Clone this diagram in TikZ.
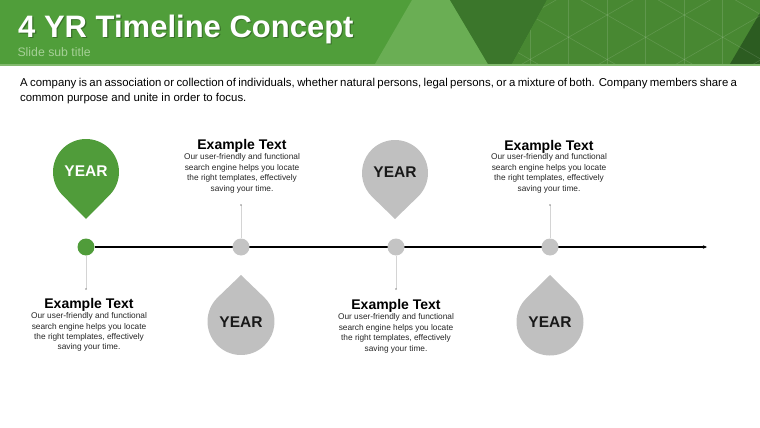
\documentclass[tikz,border=0pt]{standalone}
\usepackage{fontspec}
\setmainfont{Liberation Sans}
\usetikzlibrary{arrows.meta,calc}
\definecolor{hdr}{RGB}{80,158,58}
\definecolor{hdrlight}{RGB}{106,174,84}
\definecolor{hdrdark}{RGB}{59,118,43}
\definecolor{hdrmid}{RGB}{72,136,50}
\definecolor{hdrdeep}{RGB}{44,92,33}
\definecolor{hdrstripe}{RGB}{130,185,110}
\definecolor{subt}{RGB}{165,208,150}
\definecolor{pingreen}{RGB}{80,156,58}
\definecolor{pingray}{RGB}{192,192,192}
\definecolor{dotgray}{RGB}{196,196,196}
\definecolor{linegray}{RGB}{212,212,212}
\newcommand\pinshape[5]{%
  \pgfmathsetmacro\pth{acos(#3/abs(#4))}%
  \pgfmathsetmacro\pdir{(#4>0) ? 90 : -90}%
  \pgfmathsetmacro\ptipy{#2+#4}%
  \fill[#5] (#1,\ptipy) -- ($(#1,#2)+(\pdir-\pth:#3)$)
    arc[start angle=\pdir-\pth, end angle=\pdir+\pth-360, radius=#3] -- cycle;}
\tikzset{
  ttl/.style={font=\bfseries\fontsize{14}{16}\selectfont, text=black, inner sep=0, anchor=base},
  body/.style={font=\fontsize{8.3}{10.4}\selectfont, align=center, text=black!85, inner sep=0, anchor=north},
  yeartxt/.style={font=\bfseries\fontsize{15.5}{18}\selectfont, inner sep=0},
  dotnode/.style={circle, minimum size=17pt, inner sep=0, fill=dotgray},
  conn/.style={draw=linegray, line width=0.8pt},
  tl/.style={draw=black, line width=1.3pt, -{Stealth[length=4pt,width=3.5pt]}},
}
\begin{document}
\begin{tikzpicture}[x=1pt,y=-1pt]
\useasboundingbox (0,0) rectangle (760,428);
% header
\fill[hdr] (0,0) rectangle (760,64);
\fill[hdrlight] (375,64) -- (412,0) -- (450,0) -- (488,64) -- cycle;
\fill[hdrdark] (450,0) -- (547,0) -- (512,64) -- (488,64) -- cycle;
\fill[hdrmid] (547,0) -- (760,0) -- (760,64) -- (512,64) -- cycle;
\fill[hdrdeep] (730,64) -- (760,13) -- (760,64) -- cycle;
\begin{scope}
  \clip (547,0) -- (760,0) -- (760,64) -- (512,64) -- cycle;
  \foreach \k in {-1,...,6} {\draw[white, opacity=0.13, line width=0.6pt] (530+\k*38.5,0) -- (530+\k*38.5,64);}
  \foreach \k in {-3,...,3} {\draw[white, opacity=0.13, line width=0.6pt] (500,{0.577*500-335.3+\k*44.5}) -- (760,{0.577*760-335.3+\k*44.5});}
  \foreach \k in {-2,...,4} {\draw[white, opacity=0.13, line width=0.6pt] (500,{-0.577*500+365.3+\k*44.5}) -- (760,{-0.577*760+365.3+\k*44.5});}
\end{scope}
\fill[hdrstripe] (0,64) rectangle (760,66.5);
\node[anchor=base west, font=\bfseries\fontsize{31}{36}\selectfont, text=black, opacity=0.3, inner sep=0] (titleshadow) at (19.2,39) {4 YR Timeline Concept};
\node[anchor=base west, font=\bfseries\fontsize{31}{36}\selectfont, text=white, inner sep=0] (title) at (18,37.7) {4 YR Timeline Concept};
\node[anchor=base west, font=\fontsize{12.3}{14}\selectfont, text=subt, inner sep=0] (subtitle) at (17.3,56.5) {Slide sub title};
% intro
\node[anchor=north west, align=left, inner sep=0, font=\fontsize{11.4}{15}\selectfont] (intro) at (20,77.8)
  {\makebox[717pt][s]{A company is an association or collection of individuals, whether natural persons, legal persons, or a mixture of both. Company members share a}\\
   common purpose and unite in order to focus.};
% pins
\pinshape{86}{172}{33}{47}{pingreen}
\pinshape{395}{173}{33}{46}{pingray}
\pinshape{241}{321.5}{33.5}{-46.5}{pingray}
\pinshape{550}{322}{33.5}{-47}{pingray}
\node[yeartxt, text=white] (y1) at (86,171) {YEAR};
\node[yeartxt, text=black!90] (y3) at (395,172) {YEAR};
\node[yeartxt, text=black!90] (y2) at (241,322) {YEAR};
\node[yeartxt, text=black!90] (y4) at (550,322) {YEAR};
% timeline
\node[dotnode, fill=pingreen] (d1) at (86,247) {};
\coordinate (aend) at (707,247);
\draw[tl] (d1) -- (aend);
\node[dotnode] (d2) at (241,247) {};
\node[dotnode] (d3) at (396,247) {};
\node[dotnode] (d4) at (550,247) {};
% connectors
\coordinate (c1) at (86,289);
\coordinate (c2) at (241,205);
\coordinate (c3) at (396,289);
\coordinate (c4) at (550,205);
\draw[conn] (d1) -- (c1);
\draw[conn] (d2) -- (c2);
\draw[conn] (d3) -- (c3);
\draw[conn] (d4) -- (c4);
\foreach \c in {c1,c2,c3,c4} {\fill[black!45] (\c) circle (0.8);}
% texts
\node[ttl] (t2) at (242,149) {Example Text};
\node[body] (b2) at (242,153.6) {Our user-friendly and functional\\search engine helps you locate\\the right templates, effectively\\saving your time.};
\node[ttl] (t4) at (549,150) {Example Text};
\node[body] (b4) at (549,153.6) {Our user-friendly and functional\\search engine helps you locate\\the right templates, effectively\\saving your time.};
\node[ttl] (t1) at (89,308) {Example Text};
\node[body] (b1) at (89,312.4) {Our user-friendly and functional\\search engine helps you locate\\the right templates, effectively\\saving your time.};
\node[ttl] (t3) at (396,309) {Example Text};
\node[body] (b3) at (396,313.6) {Our user-friendly and functional\\search engine helps you locate\\the right templates, effectively\\saving your time.};
\end{tikzpicture}
\end{document}
